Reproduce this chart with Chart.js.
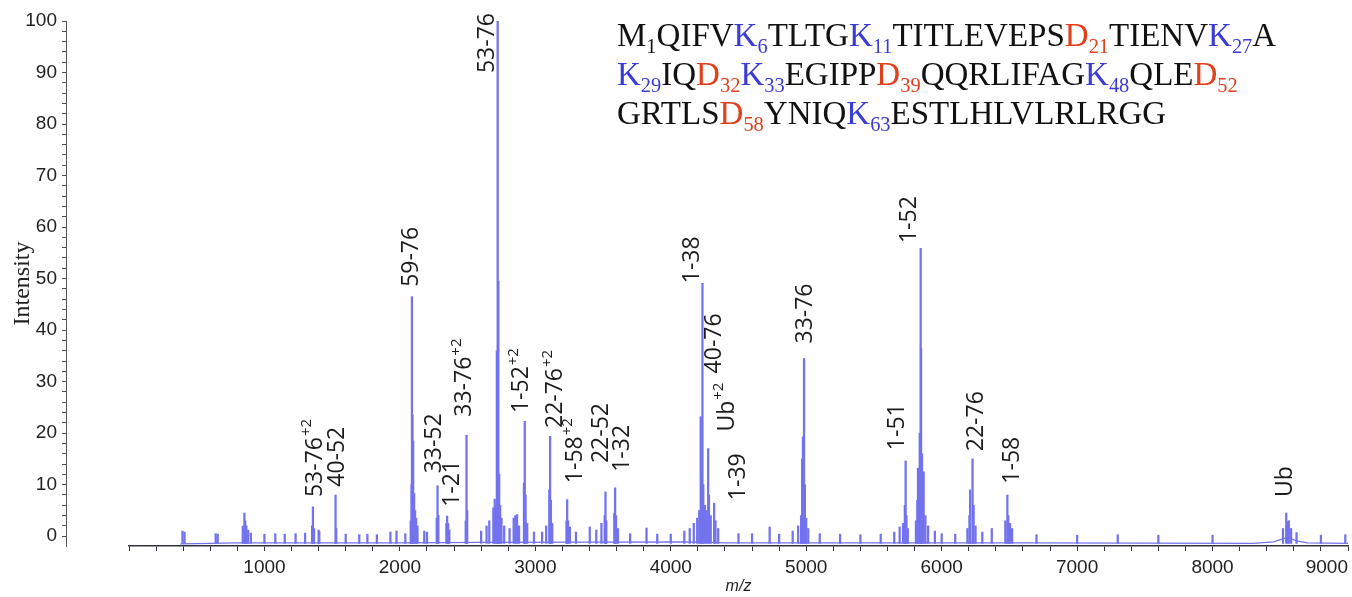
<!DOCTYPE html>
<html>
<head>
<meta charset="utf-8">
<script src="https://cdn.jsdelivr.net/npm/chart.js@4.4.1/dist/chart.umd.min.js"></script>
<style>
  html, body { margin: 0; padding: 0; background: #fff; }
  #wrap { position: relative; width: 1352px; height: 597px; }
  #seq {
    position: absolute; left: 617px; top: 16px;
    font-family: "Liberation Serif", "Times New Roman", serif;
    font-size: 33px; line-height: 39px; color: #111; white-space: nowrap;
  }
  #seq sub { font-size: 0.62em; vertical-align: -0.32em; line-height: 0; }
  .k { color: #3b3bd6; }
  .d { color: #e2401d; }
</style>
</head>
<body>
<div id="wrap">
  <canvas id="spectrum" width="1352" height="597"></canvas>
  <div id="seq">
    <div>M<sub>1</sub>QIFV<span class="k">K<sub>6</sub></span>TLTG<span class="k">K<sub>11</sub></span>TITLEVEPS<span class="d">D<sub>21</sub></span>TIENV<span class="k">K<sub>27</sub></span>A</div>
    <div><span class="k">K<sub>29</sub></span>IQ<span class="d">D<sub>32</sub></span><span class="k">K<sub>33</sub></span>EGIPP<span class="d">D<sub>39</sub></span>QQRLIFAG<span class="k">K<sub>48</sub></span>QLE<span class="d">D<sub>52</sub></span></div>
    <div>GRTLS<span class="d">D<sub>58</sub></span>YNIQ<span class="k">K<sub>63</sub></span>ESTLHLVLRLRGG</div>
  </div>
</div>
<script>
// peak sticks (m/z, relative intensity)
const peakMz = [
  395, 410, 640, 655, 840, 852, 858, 866, 880, 900,
  1000, 1080, 1150, 1230, 1300, 1352, 1358, 1366, 1400, 1405,
  1525, 1530, 1600, 1700, 1760, 1830, 1930, 1975, 2040,
  2080, 2086, 2089, 2093, 2098, 2105, 2112, 2120, 2130, 2180, 2200,
  2272, 2278, 2284, 2343, 2349, 2356, 2365, 2486, 2492, 2497,
  2600, 2640, 2660, 2690, 2700, 2710, 2716, 2722, 2727, 2733, 2740, 2750, 2770,
  2810, 2840, 2852, 2865, 2880, 2916, 2922, 2928, 2940, 2990, 3050, 3080,
  3103, 3109, 3115, 3125, 3230, 3235, 3242, 3255, 3300, 3402, 3450, 3488,
  3512, 3518, 3524, 3583, 3589, 3596, 3610, 3700, 3821, 3900, 4000,
  4100, 4140, 4170, 4195, 4210, 4221, 4226, 4234, 4240, 4252, 4262, 4276, 4282, 4295, 4320, 4330, 4350,
  4500, 4600, 4730, 4800, 4900, 4940, 4962, 4970, 4976, 4984, 4990, 5000, 5015,
  5100, 5250, 5400, 5550, 5650, 5690, 5715, 5728, 5734, 5740, 5750,
  5810, 5820, 5825, 5838, 5845, 5848, 5855, 5867, 5880, 5900, 5950, 6000, 6100, 6190,
  6205, 6210, 6228, 6236, 6250, 6300, 6370, 6470, 6485, 6492, 6505, 6520,
  6700, 7000, 7300, 7600, 8000, 8520, 8544, 8556, 8563, 8580, 8620, 8800, 8980
];
const peakIntensity = [
  1.0, 0.8, 0.5, 0.4, 2.0, 4.5, 3.0, 2.0, 1.2, 0.6,
  0.4, 0.5, 0.4, 0.5, 0.6, 2.0, 5.7, 1.5, 1.2, 0.9,
  8.0, 1.5, 0.4, 0.3, 0.4, 0.3, 0.8, 1.0, 0.5,
  3.0, 10.0, 46.5, 23.5, 18.5, 8.3, 5.0, 3.5, 2.0, 1.0, 0.8,
  3.5, 9.8, 4.0, 2.5, 3.9, 2.5, 1.2, 3.0, 19.6, 5.0,
  1.0, 2.0, 3.0, 5.5, 7.2, 6.0, 36.0, 100, 49.5, 12.0, 6.0, 3.5, 2.0,
  1.5, 3.5, 4.0, 4.2, 2.0, 10.3, 22.3, 8.0, 2.5, 0.8, 0.8, 2.0,
  9.0, 19.4, 7.0, 2.5, 3.0, 7.1, 3.0, 1.8, 0.8, 1.8, 1.2, 2.5,
  4.0, 8.6, 3.0, 4.5, 9.4, 4.0, 1.5, 0.5, 1.6, 0.4, 0.4,
  1.0, 1.5, 2.5, 3.5, 5.0, 23.2, 12.0, 49.1, 10.0, 6.0, 5.0, 17.0, 8.0, 4.0, 6.4, 3.0, 1.5,
  0.5, 0.5, 1.8, 0.4, 1.0, 2.0, 4.0, 15.0, 19.3, 34.5, 10.0, 3.5, 1.5,
  0.5, 0.4, 0.3, 0.4, 0.8, 1.8, 2.5, 6.0, 14.6, 4.0, 1.5,
  3.0, 7.0, 13.2, 20.0, 55.9, 36.5, 16.0, 12.5, 4.0, 2.0, 1.0, 0.5, 0.4, 1.5,
  4.0, 9.0, 15.0, 6.0, 2.0, 0.8, 1.5, 3.0, 8.0, 4.0, 2.5, 1.5,
  0.3, 0.2, 0.3, 0.2, 0.2, 1.5, 4.5, 2.8, 3.0, 1.5, 0.7, 0.2, 0.3
];
const stickBase = -1.4;

// baseline trace of the spectrum, including the broad hump under Ub
const baselineMz = [380, 800, 2000, 2600, 4150, 4400, 6600, 8300, 8450, 8530, 8560, 8620, 8700, 9000];
const baselineLevel = [-1.5, -1.3, -1.3, -1.2, -1.1, -1.3, -1.3, -1.4, -1.1, -0.4, -0.3, -0.9, -1.3, -1.4];

// fragment annotations: text, superscript charge, anchor m/z, intensity where text starts
const labelText = ['53-76', '40-52', '59-76', '33-52', '1-21', '33-76', '53-76', '1-52', '22-76', '1-58',
  '22-52', '1-32', '1-38', '40-76', 'Ub', '1-39', '33-76', '1-51', '1-52', '22-76', '1-58', 'Ub'];
const labelSup = ['+2', '', '', '', '', '+2', '', '+2', '+2', '+2',
  '', '', '', '', '+2', '', '', '', '', '', '', ''];
const labelMz = [1373, 1542, 2089, 2258, 2391, 2480, 2644, 2898, 3149, 3297,
  3489, 3646, 4157, 4325, 4415, 4497, 4994, 5670, 5759, 6258, 6522, 8536];
const labelAt = [7.6, 9.6, 48.4, 12.2, 5.7, 23.2, 89.9, 23.9, 21.0, 10.3,
  14.2, 12.5, 49.1, 31.6, 20.3, 7.0, 37.4, 16.7, 56.9, 16.5, 10.2, 7.6];

const xTickStep = 200;
const xLabelStep = 1000;
const yTickStep = 2;
const yLabelStep = 10;

const specColor = '#7373ee';
const axisColor = '#333340';
const yAxisX = 66;

const peakLabels = {
  id: 'peakLabels',
  afterDatasetsDraw(chart) {
    const { ctx, scales: { x, y } } = chart;
    ctx.save();
    ctx.fillStyle = '#1c1c1c';
    ctx.textBaseline = 'middle';
    ctx.textAlign = 'left';
    labelText.forEach((t, i) => {
      ctx.save();
      ctx.translate(x.getPixelForValue(labelMz[i]), y.getPixelForValue(labelAt[i]));
      ctx.rotate(-Math.PI / 2);
      ctx.font = '23px "Open Sans"';
      ctx.fillText(t, 0, 0);
      if (labelSup[i]) {
        const w = ctx.measureText(t).width;
        ctx.font = '15px "Open Sans"';
        ctx.fillText(labelSup[i], w + 1, -8);
      }
      ctx.restore();
    });
    ctx.restore();
  }
};

// the intensity axis stands apart from the plot, left of where m/z = 0 starts
const detachYAxis = {
  id: 'detachYAxis',
  afterLayout(chart) {
    const s = chart.scales.y;
    s.right = yAxisX;
    s.width = s.right - s.left;
  }
};

new Chart(document.getElementById('spectrum'), {
  type: 'line',
  data: {
    datasets: [
      {
        type: 'line',
        data: baselineMz.map((m, i) => ({ x: m, y: baselineLevel[i] })),
        borderColor: specColor,
        borderWidth: 1.3,
        pointRadius: 0,
        tension: 0
      },
      {
        type: 'bar',
        data: peakMz.map((m, i) => ({ x: m, y: [stickBase, peakIntensity[i]] })),
        backgroundColor: specColor,
        barThickness: 1.6,
        grouped: false
      }
    ]
  },
  options: {
    responsive: false,
    animation: false,
    devicePixelRatio: 1,
    layout: { padding: { top: 21, right: 4, left: 0, bottom: 0 } },
    plugins: { legend: { display: false }, tooltip: { enabled: false } },
    scales: {
      x: {
        type: 'linear',
        min: 0,
        max: 9000,
        offset: false,
        afterFit(s) { s.height = 51; s.paddingRight = 0; },
        ticks: {
          stepSize: xTickStep,
          autoSkip: false,
          maxRotation: 0,
          includeBounds: false,
          align: 'inner',
          padding: 5,
          color: '#222',
          font: { family: '"Liberation Sans", Arial', size: 19 },
          callback: v => (v > 0 && v % xLabelStep === 0) ? String(v) : ''
        },
        grid: { drawOnChartArea: false, offset: false, tickLength: 5, color: axisColor },
        border: { color: axisColor, width: 1.5 },
        title: {
          display: true,
          text: 'm/z',
          color: '#222',
          padding: { top: 0, bottom: 1 },
          font: { family: '"Liberation Sans", Arial', size: 16, style: 'italic' }
        }
      },
      y: {
        min: -1.9,
        max: 100,
        afterFit(s) { s.width = 129; },
        ticks: {
          stepSize: yTickStep,
          autoSkip: false,
          includeBounds: false,
          padding: 5,
          color: '#222',
          font: { family: '"Liberation Sans", Arial', size: 19 },
          callback: v => (v % yLabelStep === 0) ? String(v) : ''
        },
        grid: { drawOnChartArea: false, tickLength: 4, color: '#555' },
        border: { color: '#555', width: 1 },
        title: {
          display: true,
          text: 'Intensity',
          color: '#222',
          padding: { top: 8, bottom: 0 },
          font: { family: '"Liberation Serif", "Times New Roman", serif', size: 24 }
        }
      }
    }
  },
  plugins: [peakLabels, detachYAxis]
});
</script>
</body>
</html>
